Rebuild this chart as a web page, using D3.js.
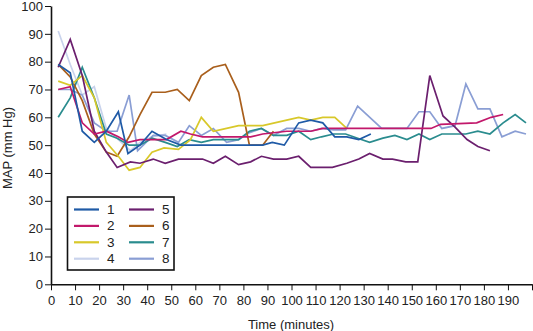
<!DOCTYPE html>
<html><head><meta charset="utf-8">
<script src="https://cdn.jsdelivr.net/npm/d3@7"></script>
<style>
html,body{margin:0;padding:0;background:#fff;}
svg{display:block;font-family:"Liberation Sans",Arial,sans-serif;}
</style></head>
<body>
<svg id="c" width="533" height="331"></svg>
<script>
const seriesNames = ["1","2","3","4","5","6","7","8"];
const seriesColors = ["#1f5aa6","#c2186b","#d8c82a","#c9d3ec","#6b1f6e","#a95f1c","#2a8c8e","#8a9ed4"];
const xTicks = [0,10,20,30,40,50,60,70,80,90,100,110,120,130,140,150,160,170,180,190,200];
const xTickLabels = ["0","10","20","30","40","50","60","70","80","90","100","110","120","130","140","150","160","170","180","190",""];
const yTicks = [0,10,20,30,40,50,60,70,80,90,100];

const s1 = [[3,79],[8,76],[13,55],[18,51],[23,55],[28,62],[32,47],[37,50],[42,55],[48,52],[54,50],[60,50],[88,50],[92,51],[97,50],[103,58],[108,59],[113,58],[118,53],[123,53],[128,52],[133,54]];
const s2 = [[3,70],[8,71],[13,58],[18,54],[23,55],[28,53],[32,51],[37,52],[42,52],[48,52],[54,55],[58,54],[63,53],[83,53],[88,54],[98,55],[108,55],[113,56],[118,56],[158,56],[162,57.5],[177,58],[183,60],[188,61]];
const s3 = [[3,73],[8,71.5],[13,75],[18,67],[23,51],[28,46],[32.5,41],[37,42],[42,47.5],[47,49],[53,48.5],[58,52],[62.5,60],[67.5,55],[73,56],[78,57],[88,57],[98,59],[103,60],[108,59],[113,60],[118,60],[123,56]];
const s4 = [[3,91],[8,79],[13,68],[18,71],[23,56],[28,52],[33,48],[37,51],[42,53],[48,54]];
const s5 = [[3,78],[8,88],[13,75],[18,55],[23,47.5],[27.5,42],[33,44],[37,43.5],[42.5,45],[47.5,43.5],[53,45],[58,45],[63,45],[67.5,43.5],[72.5,46],[78,43],[83,44],[87.5,46],[92.5,45],[98,45],[103,46],[108,42],[117,42],[123,43.5],[128,45],[132.5,47],[138,45],[142,45],[147.5,44],[152.5,44],[157.5,75],[163,60.5],[168,56.5],[173,52],[177.5,49.5],[182.5,48]];
const s6 = [[3,79],[8,74.5],[13,66],[18,54],[23,47.5],[27.5,46],[32.5,53],[37,61],[42,69],[47.5,69],[52.5,70],[57.5,66],[62.5,75],[67.5,78],[72.5,79],[78,69],[82.5,50],[88,50],[92.5,55]];
const s7 = [[3,60],[8,67],[13,78],[18,67],[23,54],[27.5,52.5],[32.5,50],[37,50],[42,52.5],[47.5,51],[52.5,49.5],[57.5,52],[62.5,51],[67.5,52],[78,52],[82.5,55],[87.5,56],[92.5,53.5],[98,53.5],[103,55],[108,52],[112.5,53],[117.5,54],[122.5,54],[127.5,52.5],[132.5,51],[138,52.5],[143,53.5],[148,52],[153,54],[157.5,52],[162.5,54],[172.5,54],[177.5,55],[182.5,54],[188,58],[193,61],[197.5,58]];
const s8 = [[3,70],[8,70],[13,68],[18,58],[23,55],[27.5,55],[32.5,68],[36,48],[42.5,53.5],[47.5,53.5],[53,51],[57.5,57],[62.5,53.5],[67.5,56],[73,51],[78,52],[82.5,54.5],[87.5,56],[92.5,53.5],[98,56],[103,56],[108,55],[112.5,56],[117.5,55.5],[122.5,55.5],[127.5,64],[137.5,56],[148,56],[153,62],[157.5,62],[162.5,56],[168,57],[172.5,72],[177.5,63],[182.5,63],[187.5,53],[193,55],[197.5,54]];
const seriesData = [s1,s2,s3,s4,s5,s6,s7,s8];
const drawOrder = [3,7,6,5,2,4,1,0];

const svg = d3.select("#c");
const x = d3.scaleLinear().domain([0,200]).range([51,532]);
const y = d3.scaleLinear().domain([0,100]).range([284.3,6]);

const xAxis = d3.axisBottom(x).tickValues(xTicks).tickFormat((d,i)=>xTickLabels[i]).tickSizeInner(6).tickSizeOuter(0).tickPadding(5);
const gx = svg.append("g").attr("transform","translate(0,284.3)").call(xAxis);
const yAxis = d3.axisLeft(y).tickValues(yTicks).tickSizeInner(6).tickSizeOuter(0).tickPadding(2);
const gy = svg.append("g").attr("transform","translate(51,0)").call(yAxis);
[gx,gy].forEach(g=>{
  g.selectAll("path.domain").attr("stroke","#111").attr("stroke-width",1.6);
  g.selectAll("line").attr("stroke","#111").attr("stroke-width",1);
  g.selectAll("text").attr("fill","#222").style("font-size","13px").style("font-family","'Liberation Sans',Arial,sans-serif");
});

svg.append("text").attr("x",291).attr("y",329).attr("text-anchor","middle")
  .attr("fill","#222").style("font-size","13px").text("Time (minutes)");
svg.append("text").attr("transform","translate(12,148) rotate(-90)").attr("text-anchor","middle")
  .attr("fill","#222").style("font-size","13px").text("MAP (mm Hg)");

const line = d3.line().x(d=>x(d[0])).y(d=>y(d[1]));
drawOrder.forEach(i=>{
  svg.append("path").datum(seriesData[i]).attr("d",line)
    .attr("fill","none").attr("stroke",seriesColors[i]).attr("stroke-width",1.7)
    .attr("stroke-linejoin","miter");
});

// legend
const lg = svg.append("g");
lg.append("rect").attr("x",67.5).attr("y",197).attr("width",106.5).attr("height",73)
  .attr("fill","#fff").attr("stroke","#111").attr("stroke-width",1.6);
seriesNames.forEach((n,i)=>{
  const col = Math.floor(i/4), row = i%4;
  const lx = 74 + col*55, ly = 209.5 + row*16.4;
  lg.append("line").attr("x1",lx).attr("x2",lx+25).attr("y1",ly).attr("y2",ly)
    .attr("stroke",seriesColors[i]).attr("stroke-width",2.2);
  lg.append("text").attr("x",lx+33).attr("y",ly+4.5).attr("fill","#222")
    .style("font-size","13.5px").text(n);
});
</script>
</body></html>
